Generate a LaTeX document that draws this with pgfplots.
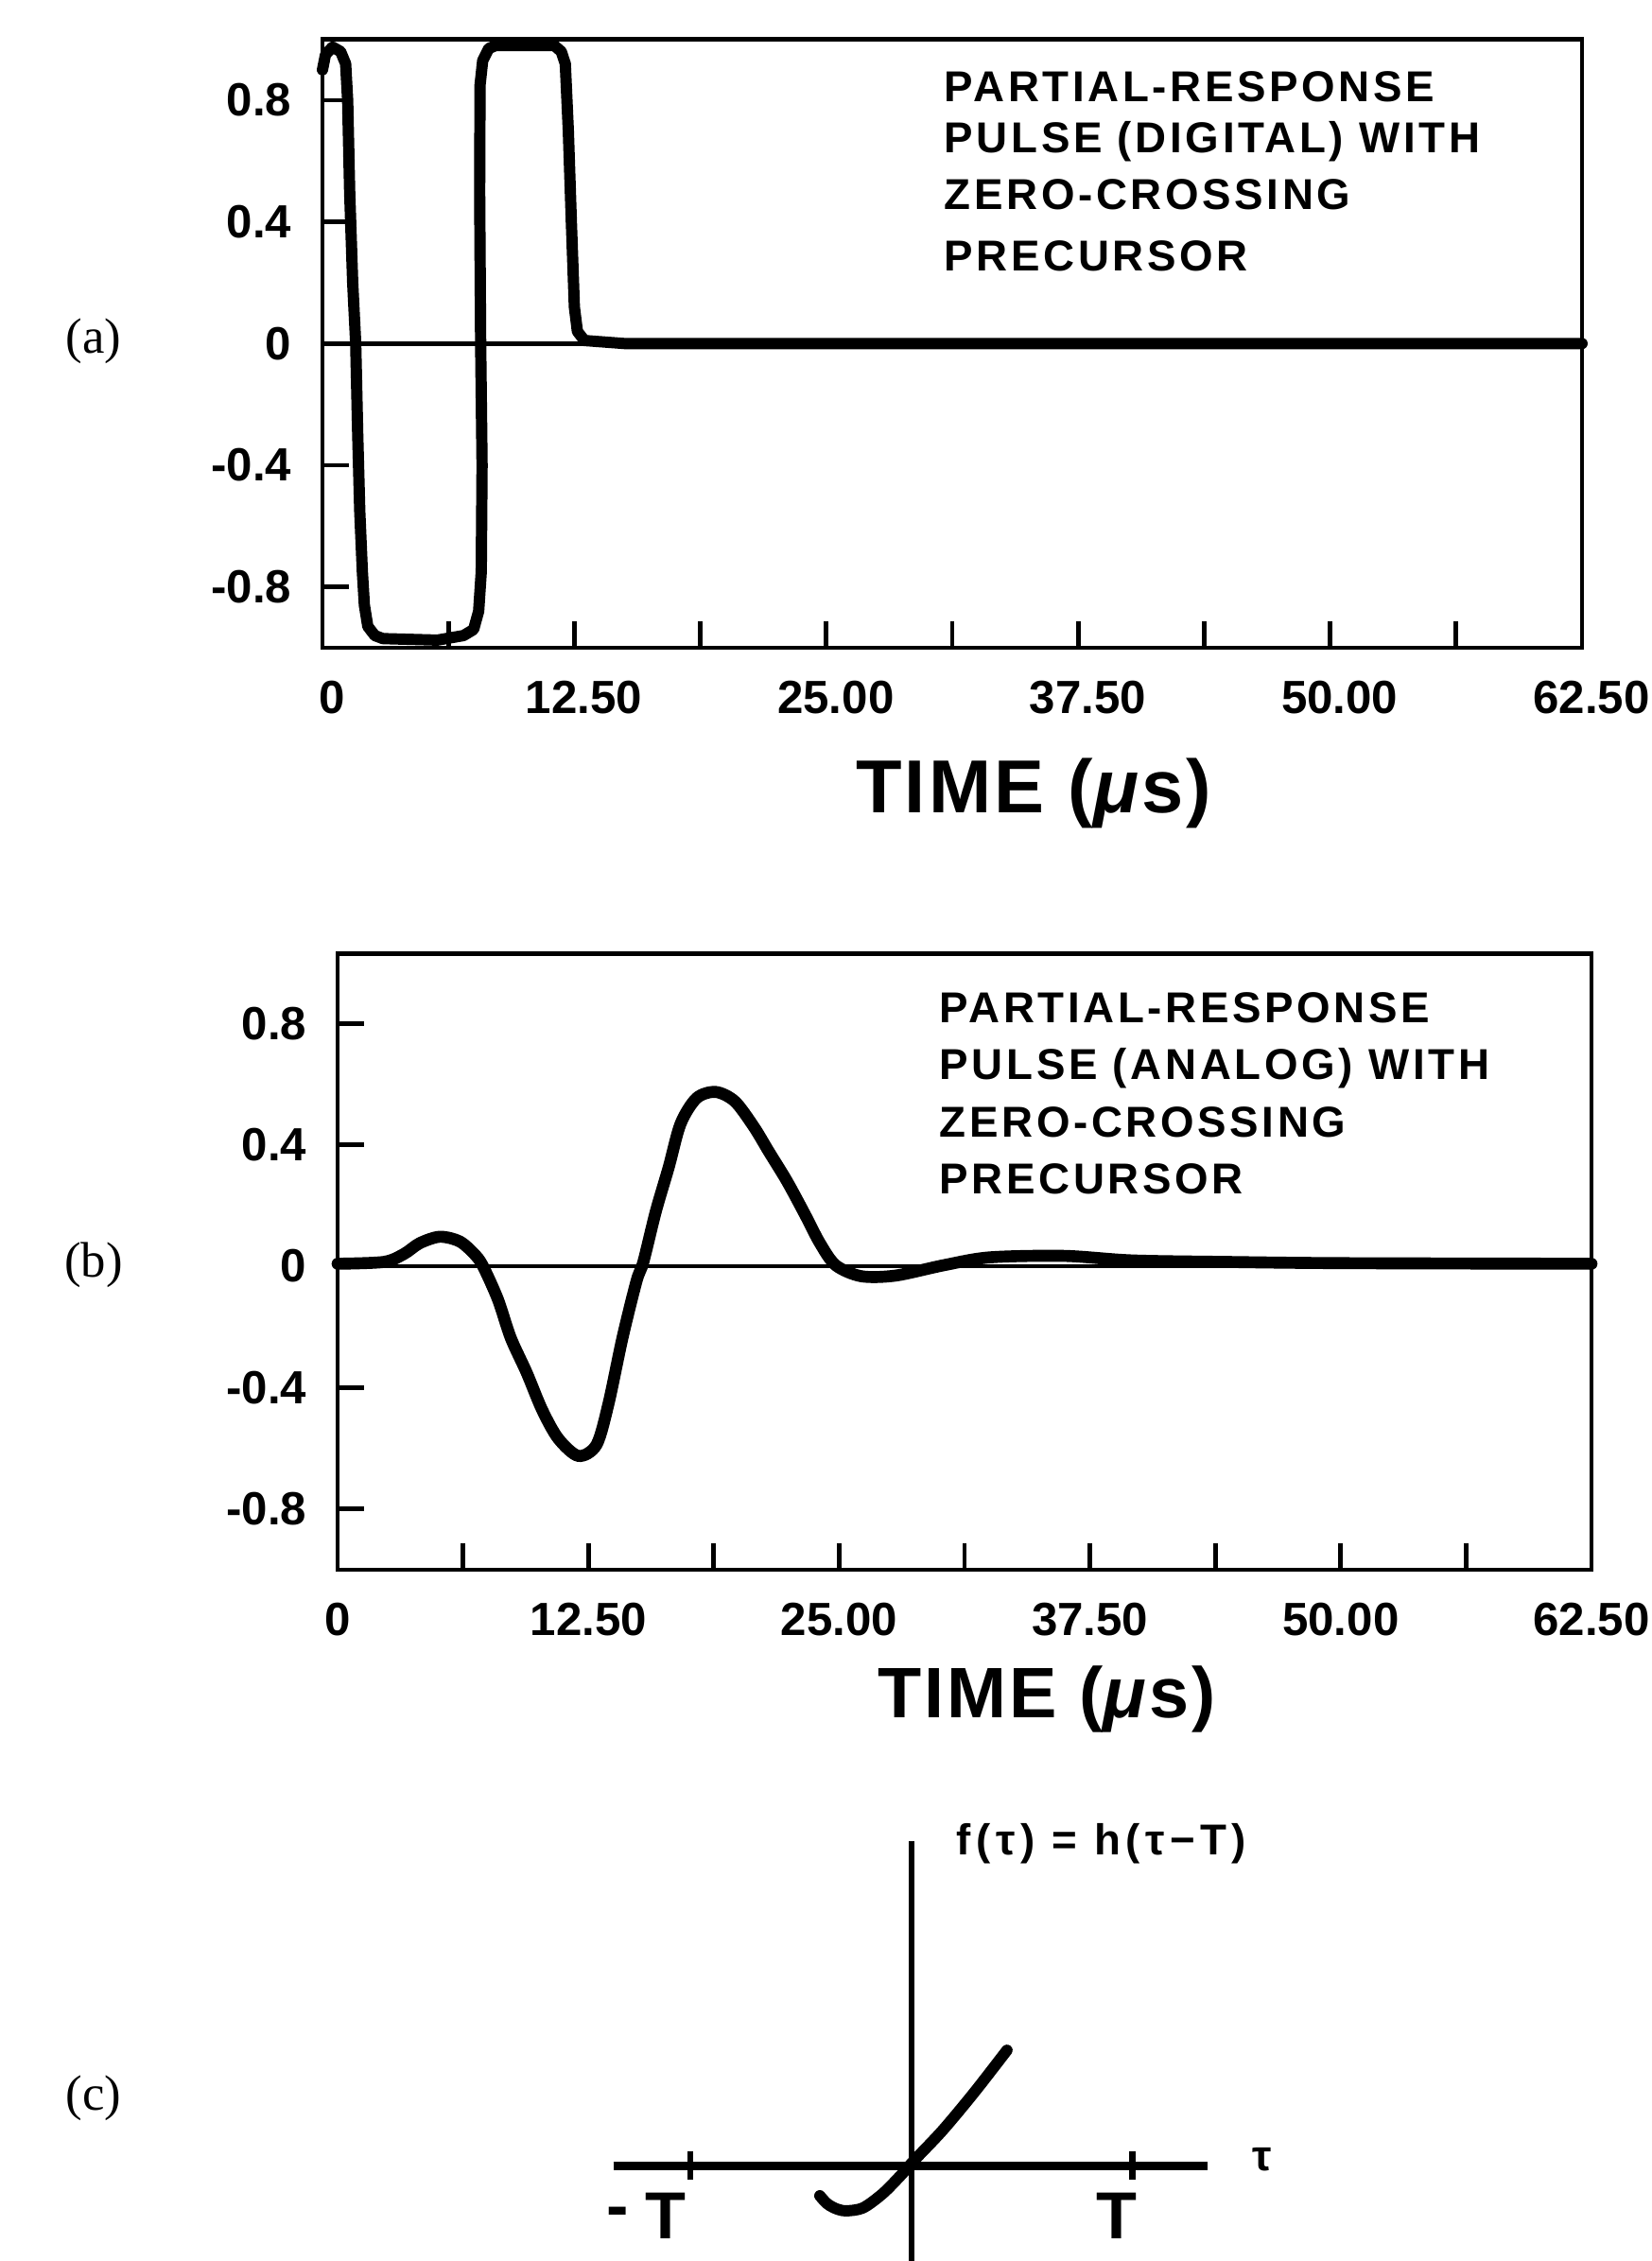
\documentclass[border=0pt]{standalone}
\usepackage{fontspec}
\setmainfont{Liberation Sans}
\newfontfamily\panelfont{Liberation Serif}
\newfontfamily\notefont{Liberation Sans}[LetterSpace=8]
\newfontfamily\timefont{Liberation Sans}[LetterSpace=4]
\newfontfamily\widefont{Liberation Sans}[LetterSpace=12]
\usepackage{pgfplots}
\pgfplotsset{compat=1.18}

\pgfplotsset{
  pulsebox/.style={
    scale only axis,
    xmin=0, xmax=62.5,
    xtick={0,12.5,25,37.5,50,62.5},
    xticklabels={0,12.50,25.00,37.50,50.00,62.50},
    minor xtick={6.25,18.75,31.25,43.75,56.25},
    ytick={-0.8,-0.4,0,0.4,0.8},
    yticklabels={-0.8,-0.4,0,0.4,0.8},
    tick pos=left, tick align=inside,
    major tick length=0.28cm, minor tick length=0.28cm,
    axis line style={line width=1.4pt},
    every tick/.style={black, line width=1.4pt},
    every minor tick/.style={black, line width=1.4pt},
    tick label style={font=\bfseries\fontsize{14}{16}\selectfont},
    xticklabel style={anchor=north, inner sep=0pt, yshift=-0.34cm},
    yticklabel style={anchor=east, inner sep=0pt, xshift=-0.32cm},
    clip=false,
  },
}
\tikzset{
  note/.style={anchor=base west, inner sep=0pt, font={\notefont\bfseries\fontsize{13}{15}\selectfont}},
}

\begin{document}
\begin{tikzpicture}
\useasboundingbox (0,0) rectangle (17.46,23.91);

% (a) digital pulse
\begin{axis}[pulsebox, at={(3.41cm,17.06cm)}, anchor=south west,
  width=13.32cm, height=6.433cm, ymin=-1, ymax=1,
  xticklabel style={xshift=0.1cm}]
\addplot[line width=1.4pt] coordinates {(0,0) (62.5,0)};
\addplot[line width=3.4pt, line join=round, line cap=round] coordinates {
  (0.0,0.90) (0.15,0.95) (0.5,0.975) (0.9,0.96) (1.15,0.92) (1.25,0.80)
  (1.35,0.50) (1.50,0.20) (1.65,0.0) (1.75,-0.30) (1.85,-0.55) (1.98,-0.75)
  (2.08,-0.86) (2.25,-0.93) (2.6,-0.96) (3.0,-0.97) (5.7,-0.975) (7.0,-0.96)
  (7.5,-0.94) (7.75,-0.88) (7.88,-0.75) (7.92,-0.40) (7.85,0.0) (7.80,0.50)
  (7.82,0.85) (7.95,0.93) (8.25,0.97) (8.6,0.98) (11.5,0.98) (11.85,0.96)
  (12.05,0.92) (12.2,0.70) (12.35,0.40) (12.5,0.12) (12.65,0.04) (13.0,0.01)
  (15,0.0) (62.5,0.0)
};
\end{axis}

% (b) analog pulse
\begin{axis}[pulsebox, at={(3.57cm,7.31cm)}, anchor=south west,
  width=13.26cm, height=6.516cm, ymin=-1, ymax=1.03]
\addplot[line width=1.4pt] coordinates {(0,0) (62.5,0)};
\addplot[line width=3.6pt, smooth, tension=0.5, line cap=round] coordinates {
  (0,0.008) (2.3,0.014) (3.3,0.04) (4.1,0.076) (5.1,0.097) (6.1,0.081)
  (6.9,0.034) (7.3,-0.007) (8.0,-0.111) (8.63,-0.236) (9.42,-0.35)
  (10.2,-0.474) (11.0,-0.568) (12.0,-0.625) (12.9,-0.589) (13.5,-0.454)
  (14.2,-0.236) (14.9,-0.049) (15.24,0.014) (15.86,0.18) (16.5,0.325)
  (17.1,0.47) (17.9,0.554) (18.85,0.574) (19.8,0.543) (20.74,0.46)
  (21.5,0.377) (22.4,0.28) (23.3,0.17) (24.04,0.076) (24.83,0.003)
  (26.1,-0.033) (27.8,-0.031) (30.2,0.003) (32.5,0.029) (36.2,0.034)
  (39.6,0.019) (44.3,0.014) (50,0.01) (62.5,0.008)
};
\end{axis}

% (c) sketch
\begin{axis}[at={(6.485cm,0cm)}, anchor=south west, scale only axis,
  width=6.285cm, height=4.443cm,
  xmin=-1.35, xmax=1.34, ymin=-0.43, ymax=1.47,
  axis lines=middle, axis line style={-},
  x axis line style={line width=2.4pt}, y axis line style={line width=1.6pt},
  xtick={-1,1}, xticklabels={\empty,\empty}, ytick=\empty,
  major tick length=0.3cm, tick align=center,
  every tick/.style={black, line width=1.8pt},
  clip=false]
\addplot[line width=3.4pt, smooth, line cap=round] coordinates {
  (-0.415,-0.135) (-0.385,-0.168) (-0.35,-0.19) (-0.30,-0.203) (-0.22,-0.19)
  (-0.13,-0.125) (-0.046,-0.04) (0.011,0.024) (0.14,0.16) (0.282,0.33)
  (0.432,0.523)
};
\end{axis}

% annotations
\node[note] at (9.98,22.83) {PARTIAL-RESPONSE};
\node[note] at (9.98,22.29) {PULSE (DIGITAL) WITH};
\node[note] at (9.98,21.69) {ZERO-CROSSING};
\node[note] at (9.98,21.04) {PRECURSOR};

\node[note] at (9.93,13.09) {PARTIAL-RESPONSE};
\node[note] at (9.93,12.49) {PULSE (ANALOG) WITH};
\node[note] at (9.93,11.88) {ZERO-CROSSING};
\node[note] at (9.93,11.28) {PRECURSOR};

\node[anchor=base, inner sep=0pt, font={\timefont\bfseries\fontsize{22.6}{26}\selectfont}]
  at (10.93,15.31) {TIME (\textit{μ}s)};
\node[anchor=base, inner sep=0pt, font={\timefont\bfseries\fontsize{21.5}{25}\selectfont}]
  at (11.07,5.74) {TIME (\textit{μ}s)};

\node[inner sep=0pt, font={\widefont\bfseries\fontsize{13}{15}\selectfont}]
  at (11.65,4.41) {f(τ) = h(τ−T)};
\node[inner sep=0pt, font={\bfseries\fontsize{20}{22}\selectfont}] at (6.53,0.46) {-};
\node[inner sep=0pt, font={\bfseries\fontsize{20}{22}\selectfont}] at (7.04,0.48) {T};
\node[inner sep=0pt, font={\bfseries\fontsize{20}{22}\selectfont}] at (11.81,0.48) {T};
\node[inner sep=0pt, font={\bfseries\fontsize{13}{15}\selectfont}] at (13.35,1.07) {τ};

\node[font={\panelfont\fontsize{15}{18}\selectfont}] at (0.99,20.30) {(a)};
\node[font={\panelfont\fontsize{15}{18}\selectfont}] at (0.99,10.53) {(b)};
\node[font={\panelfont\fontsize{15}{18}\selectfont}] at (0.99,1.72) {(c)};
\end{tikzpicture}
\end{document}
